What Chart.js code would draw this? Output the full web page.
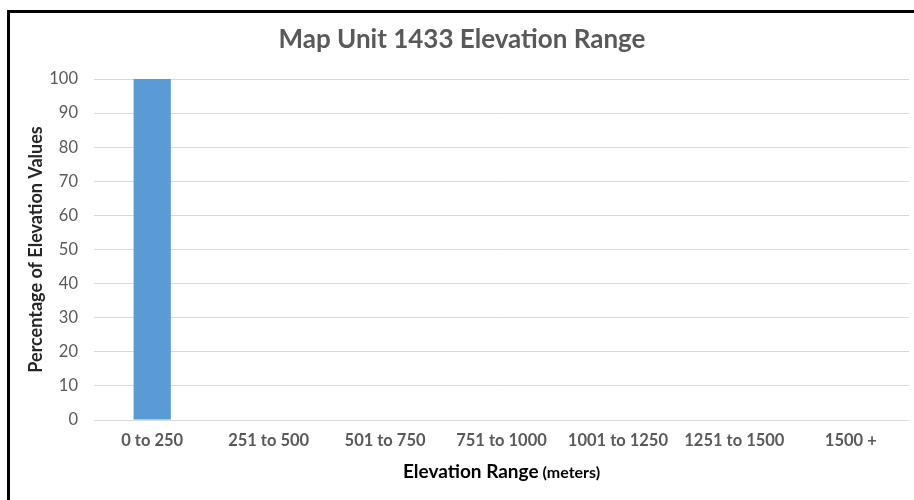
<!DOCTYPE html>
<html>
<head>
  <meta charset="UTF-8">
  <title>Map Unit 1433 Elevation Range</title>
  <script src="https://cdn.jsdelivr.net/npm/chart.js"></script>
  <style>
    html, body {
      margin: 0;
      padding: 0;
      background: #fff;
    }
    #wrap {
      position: relative;
      width: 914px;
      height: 500px;
      overflow: hidden;
    }
    #frame {
      position: absolute;
      left: 7px;
      top: 10px;
      width: 920px;
      height: 500px;
      border-left: 3px solid #000;
      border-top: 3px solid #000;
      pointer-events: none;
    }
    canvas {
      position: absolute;
      left: 0;
      top: 0;
    }
  </style>
</head>
<body>
  <div id="wrap">
    <canvas id="elevChart" width="914" height="500"></canvas>
    <div id="frame"></div>
  </div>

  <script>
    const chartTitle = "Map Unit 1433 Elevation Range";
    const categories = ["0 to 250", "251 to 500", "501 to 750", "751 to 1000", "1001 to 1250", "1251 to 1500", "1500 +"];
    const percentValues = [100, 0, 0, 0, 0, 0, 0];
    const yTicks = [0, 10, 20, 30, 40, 50, 60, 70, 80, 90, 100];
    const yTitle = "Percentage of Elevation Values";
    const xTitleMain = "Elevation Range";
    const xTitleUnit = " (meters)";

    const FONT = "Lato, 'Open Sans', sans-serif";

    // title + mixed-size x axis title drawn by hand
    const textPlugin = {
      id: "textPlugin",
      afterDraw(chart) {
        const c = chart.ctx;
        const area = chart.chartArea;
        c.save();
        c.textBaseline = "middle";
        c.fillStyle = "#595959";
        c.font = "bold 26px " + FONT;
        c.textAlign = "center";
        c.fillText(chartTitle, 462, 40);

        c.font = "bold 19px " + FONT;
        const w1 = c.measureText(xTitleMain).width;
        c.font = "bold 16px " + FONT;
        const w2 = c.measureText(xTitleUnit).width;
        let x = (area.left + area.right) / 2 - (w1 + w2) / 2;
        c.textAlign = "left";
        c.textBaseline = "alphabetic";
        c.fillStyle = "#000";
        c.font = "bold 19px " + FONT;
        c.fillText(xTitleMain, x, 478);
        c.font = "bold 16px " + FONT;
        c.fillText(xTitleUnit, x + w1, 478);
        c.restore();
      }
    };

    const ctx = document.getElementById("elevChart").getContext("2d");
    new Chart(ctx, {
      type: "bar",
      data: {
        labels: categories,
        datasets: [{
          label: "Percentage",
          data: percentValues,
          backgroundColor: "#5b9bd5",
          borderWidth: 0,
          barPercentage: 0.32,
          categoryPercentage: 1
        }]
      },
      options: {
        responsive: false,
        animation: false,
        layout: { padding: { top: 79, right: 5, bottom: 0, left: 0 } },
        plugins: {
          legend: { display: false },
          tooltip: { enabled: false }
        },
        scales: {
          x: {
            offset: true,
            grid: { display: false, drawTicks: false },
            border: { display: false },
            ticks: {
              color: "#595959",
              font: { family: FONT, size: 16.5, weight: "bold" },
              padding: 11,
              maxRotation: 0,
              autoSkip: false
            },
            afterFit(scale) { scale.height = 80; }
          },
          y: {
            min: 0,
            max: 100,
            afterBuildTicks(scale) { scale.ticks = yTicks.map(v => ({ value: v })); },
            grid: { color: "#d9d9d9", lineWidth: 1, drawTicks: false },
            border: { display: false },
            ticks: {
              color: "#595959",
              font: { family: FONT, size: 16.5 },
              padding: 16
            },
            title: {
              display: true,
              text: yTitle,
              color: "#262626",
              font: { family: FONT, size: 18, weight: "bold" },
              padding: { top: 25, bottom: 0 }
            },
            afterFit(scale) { scale.width = 94; }
          }
        }
      },
      plugins: [textPlugin]
    });
  </script>
</body>
</html>
